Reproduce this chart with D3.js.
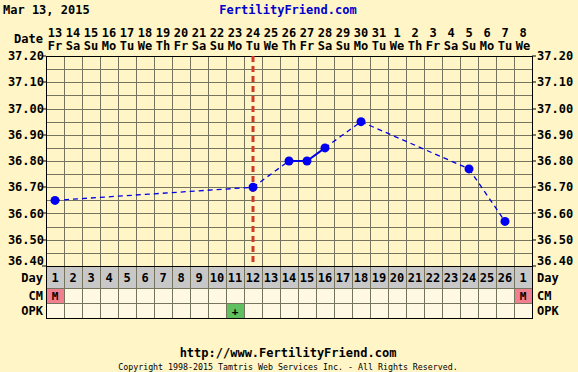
<!DOCTYPE html>
<html>
<head>
<script src="https://d3js.org/d3.v7.min.js"></script>
<style>
  body { margin: 0; background: #fff5c6; }
  text { font-family: "DejaVu Sans Mono", monospace; font-weight: bold; font-size: 12px; fill: #000; }
</style>
</head>
<body>
<div id="chart"></div>
<script>
const dates = [13,14,15,16,17,18,19,20,21,22,23,24,25,26,27,28,29,30,31,1,2,3,4,5,6,7,8];
const weekdays = ["Fr","Sa","Su","Mo","Tu","We","Th","Fr","Sa","Su","Mo","Tu","We","Th","Fr","Sa","Su","Mo","Tu","We","Th","Fr","Sa","Su","Mo","Tu","We"];
const cycleDays = [1,2,3,4,5,6,7,8,9,10,11,12,13,14,15,16,17,18,19,20,21,22,23,24,25,26,1];
const tempDays = [1,12,14,15,16,18,24,26];
const temps = [36.65,36.70,36.80,36.80,36.85,36.95,36.77,36.57];
const yTicks = [36.40,36.50,36.60,36.70,36.80,36.90,37.00,37.10,37.20];
const cmMarks = [{col: 0, text: "M"}, {col: 26, text: "M"}];
const opkMarks = [{col: 10, text: "+"}];
const ovulationDay = 12;

const width = 578, height = 372;
const gLeft = 46, gRight = 532, gTop = 56, gBottom = 266;
const dayRow = [266, 288], cmRow = [288, 303], opkRow = [303, 318];

const svg = d3.select("#chart").append("svg").attr("width", width).attr("height", height);
svg.append("rect").attr("width", width).attr("height", height).attr("fill", "#fff5c6");

const x = d3.scaleBand().domain(d3.range(dates.length)).range([gLeft, gRight]).padding(0);
const y = d3.scaleLinear().domain([36.4, 37.2]).range([gBottom, gTop]);
const cx = i => x(i) + x.bandwidth() / 2;

// rows below chart
svg.append("rect").attr("x", gLeft).attr("y", dayRow[0]).attr("width", gRight - gLeft).attr("height", dayRow[1] - dayRow[0]).attr("fill", "#c8c8c8");
svg.append("rect").attr("x", gLeft).attr("y", cmRow[0]).attr("width", gRight - gLeft).attr("height", opkRow[1] - cmRow[0]).attr("fill", "#fff8e2");

svg.selectAll(".cm").data(cmMarks).enter().append("rect")
  .attr("x", d => x(d.col)).attr("y", cmRow[0]).attr("width", x.bandwidth()).attr("height", cmRow[1] - cmRow[0])
  .attr("fill", "#f0808f");
svg.selectAll(".opk").data(opkMarks).enter().append("rect")
  .attr("x", d => x(d.col)).attr("y", opkRow[0]).attr("width", x.bandwidth()).attr("height", opkRow[1] - opkRow[0])
  .attr("fill", "#60c060");

// grid
const grid = svg.append("g").attr("stroke", "#74745f").attr("stroke-width", 1).attr("shape-rendering", "crispEdges");
d3.range(dates.length + 1).forEach(i => {
  const xx = i < dates.length ? x(i) : gRight;
  grid.append("line").attr("x1", xx).attr("x2", xx).attr("y1", gTop).attr("y2", opkRow[1]);
});
d3.range(36.4, 37.2001, 0.05).forEach(v => {
  grid.append("line").attr("x1", gLeft).attr("x2", gRight).attr("y1", Math.round(y(v))).attr("y2", Math.round(y(v)));
});
[dayRow[1], cmRow[1], opkRow[1]].forEach(yy => {
  grid.append("line").attr("x1", gLeft).attr("x2", gRight).attr("y1", yy).attr("y2", yy);
});
svg.append("rect").attr("x", gLeft).attr("y", gTop).attr("width", gRight - gLeft).attr("height", opkRow[1] - gTop)
  .attr("fill", "none").attr("stroke", "#000").attr("shape-rendering", "crispEdges");
svg.append("line").attr("x1", gLeft).attr("x2", gRight).attr("y1", gBottom).attr("y2", gBottom)
  .attr("stroke", "#000").attr("shape-rendering", "crispEdges");

// tick marks on the axes
yTicks.forEach(v => {
  svg.append("line").attr("x1", gLeft - 4).attr("x2", gLeft).attr("y1", Math.round(y(v))).attr("y2", Math.round(y(v))).attr("stroke", "#000");
  svg.append("line").attr("x1", gRight).attr("x2", gRight + 4).attr("y1", Math.round(y(v))).attr("y2", Math.round(y(v))).attr("stroke", "#000");
});

// y labels (the bottom one sits above its tick so it clears the Day row label)
const labelY = d => d === 36.4 ? y(d) - 1 : y(d) + 4;
svg.selectAll(".yl").data(yTicks).enter().append("text")
  .attr("x", gLeft - 2).attr("y", labelY).attr("text-anchor", "end").text(d => d.toFixed(2));
svg.selectAll(".yr").data(yTicks).enter().append("text")
  .attr("x", gRight + 5).attr("y", labelY).text(d => d.toFixed(2));

// header
svg.append("text").attr("x", 3).attr("y", 14).text("Mar 13, 2015");
svg.append("text").attr("x", 288).attr("y", 14).attr("text-anchor", "middle").style("fill", "#0000cc").text("FertilityFriend.com");
svg.append("text").attr("x", 43).attr("y", 43).attr("text-anchor", "end").text("Date");
svg.selectAll(".dt").data(dates).enter().append("text")
  .attr("x", (d, i) => cx(i)).attr("y", 37).attr("text-anchor", "middle").text(d => d);
svg.selectAll(".wd").data(weekdays).enter().append("text")
  .attr("x", (d, i) => cx(i)).attr("y", 50).attr("text-anchor", "middle").text(d => d);

// row labels
svg.selectAll(".cd").data(cycleDays).enter().append("text")
  .attr("x", (d, i) => cx(i)).attr("y", 282).attr("text-anchor", "middle").text(d => d);
[["Day", 282], ["CM", 300], ["OPK", 315]].forEach(([t, yy]) => {
  svg.append("text").attr("x", 43).attr("y", yy).attr("text-anchor", "end").text(t);
  svg.append("text").attr("x", gRight + 5).attr("y", yy).text(t);
});
svg.selectAll(".cmt").data(cmMarks).enter().append("text")
  .attr("x", d => cx(d.col)).attr("y", 300).attr("text-anchor", "middle").style("font-size", "11px").text(d => d.text);
svg.selectAll(".opkt").data(opkMarks).enter().append("text")
  .attr("x", d => cx(d.col)).attr("y", 315).attr("text-anchor", "middle").style("font-size", "11px").text(d => d.text);

// ovulation line
svg.append("line").attr("x1", cx(ovulationDay - 1)).attr("x2", cx(ovulationDay - 1)).attr("y1", gTop).attr("y2", gBottom)
  .attr("stroke", "#d03a2a").attr("stroke-width", 3).attr("stroke-dasharray", "6,4");

// temperature line
const pts = tempDays.map((d, i) => ({ day: d, t: temps[i] }));
for (let i = 1; i < pts.length; i++) {
  const a = pts[i - 1], b = pts[i];
  svg.append("line")
    .attr("x1", cx(a.day - 1)).attr("y1", y(a.t)).attr("x2", cx(b.day - 1)).attr("y2", y(b.t))
    .attr("stroke", "#0000e6").attr("stroke-width", b.day - a.day === 1 ? 2 : 1.3)
    .attr("stroke-dasharray", b.day - a.day === 1 ? null : "5,4");
}
svg.selectAll(".pt").data(pts).enter().append("circle")
  .attr("cx", d => cx(d.day - 1)).attr("cy", d => y(d.t)).attr("r", 4.5).attr("fill", "#0000f0");

// footer
svg.append("text").attr("x", 288).attr("y", 357).attr("text-anchor", "middle").text("http://www.FertilityFriend.com");
svg.append("text").attr("x", 288).attr("y", 370).attr("text-anchor", "middle")
  .style("font-size", "8.3px").style("font-weight", "normal").text("Copyright 1998-2015 Tamtris Web Services Inc. - All Rights Reserved.");
</script>
</body>
</html>
